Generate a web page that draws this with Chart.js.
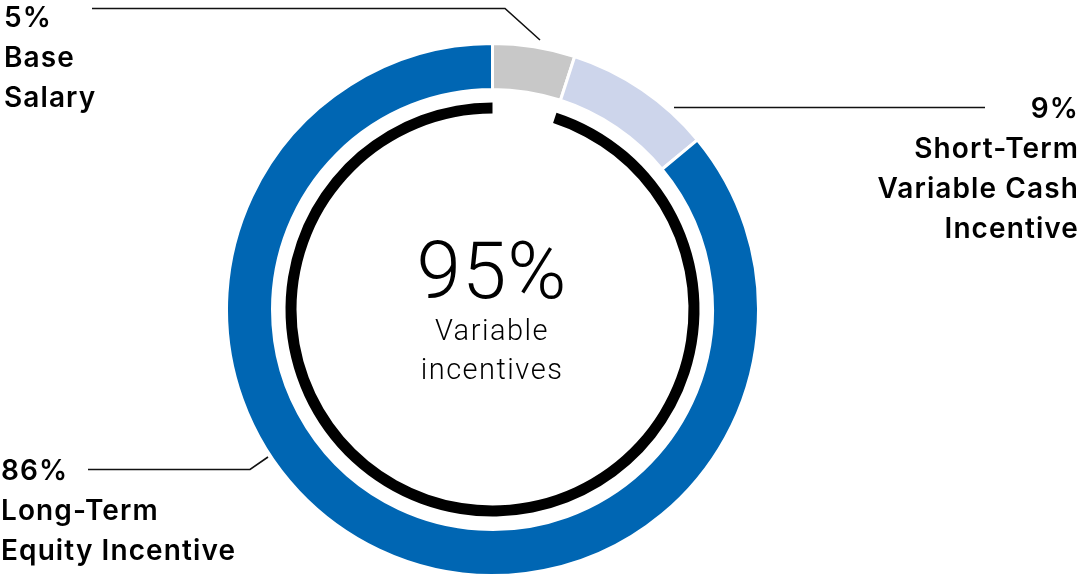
<!DOCTYPE html>
<html>
<head>
<meta charset="utf-8">
<script src="https://cdn.jsdelivr.net/npm/chart.js@4/dist/chart.umd.min.js"></script>
<style>
  html, body { margin: 0; padding: 0; background: #fff; }
  #wrap { position: relative; width: 1079px; height: 577px; overflow: hidden; }
  #c { position: absolute; left: 0; top: 0; }
  .lbl { position: absolute; font-family: Inter, "Noto Sans", sans-serif; font-weight: 600;
         font-size: 28px; letter-spacing: 1.1px; line-height: 40px; color: #000; white-space: nowrap; }
  .center { position: absolute; width: 300px; text-align: center; color: #000;
            font-family: Roboto, "Noto Sans", sans-serif; font-weight: 300; }
</style>
</head>
<body>
<div id="wrap">
  <canvas id="c" width="1079" height="577"></canvas>
  <div class="lbl" id="lblBase" style="left:4px; top:-3px; text-align:left;"></div>
  <div class="lbl" id="lblShort" style="right:0px; top:88px; text-align:right;"></div>
  <div class="lbl" id="lblLong" style="left:1px; top:450px; text-align:left;"></div>
  <div class="center" id="bigValue" style="left:342px; top:226px; font-size:80px; line-height:90px; letter-spacing:1px;"></div>
  <div class="center" id="bigCaption" style="left:342px; top:311px; font-size:29px; line-height:39px; letter-spacing:1.5px;"></div>
</div>
<script>
// Pay mix components (percent of total target compensation)
const categories = ["Base Salary", "Short-Term Variable Cash Incentive", "Long-Term Equity Incentive"];
const labelLines = [["Base", "Salary"], ["Short-Term", "Variable Cash", "Incentive"], ["Long-Term", "Equity Incentive"]];
const shares = [5, 9, 86];
const colors = ["#c8c8c8", "#cdd5eb", "#0066b3"];

// Inner ring: fixed part vs. variable part
const variableSplit = [5, 95];
const variableLabel = ["95%", "Variable", "incentives"];

// Text labels
function setLabel(id, idx) {
  const el = document.getElementById(id);
  el.innerHTML = [shares[idx] + "%"].concat(labelLines[idx]).join("<br>");
}
setLabel("lblBase", 0);
setLabel("lblShort", 1);
setLabel("lblLong", 2);
document.getElementById("bigValue").textContent = variableLabel[0];
document.getElementById("bigCaption").innerHTML = variableLabel[1] + "<br>" + variableLabel[2];

// Leader lines from each label to its slice
const leaderPlugin = {
  id: "leaders",
  afterDraw(chart) {
    const ctx = chart.ctx;
    ctx.save();
    ctx.strokeStyle = "#111";
    ctx.lineWidth = 1.6;
    const paths = [
      [[92, 8.5], [505, 8.5], [540, 40]],
      [[674, 107.5], [985, 107.5]],
      [[88, 469.5], [250, 469.5], [268, 457]]
    ];
    paths.forEach(p => {
      ctx.beginPath();
      ctx.moveTo(p[0][0], p[0][1]);
      for (let i = 1; i < p.length; i++) ctx.lineTo(p[i][0], p[i][1]);
      ctx.stroke();
    });
    ctx.restore();
  }
};

new Chart(document.getElementById("c"), {
  type: "doughnut",
  data: {
    labels: categories,
    datasets: [
      {
        data: shares,
        backgroundColor: colors,
        borderColor: "#ffffff",
        borderWidth: 3,
        weight: 46
      },
      {
        data: variableSplit,
        backgroundColor: ["rgba(0,0,0,0)", "rgba(0,0,0,0)"],
        borderWidth: 0,
        weight: 13
      },
      {
        data: variableSplit,
        backgroundColor: ["rgba(0,0,0,0)", "#000000"],
        borderWidth: 0,
        weight: 11
      }
    ]
  },
  options: {
    responsive: false,
    animation: false,
    devicePixelRatio: 1,
    radius: 266,
    cutout: 196,
    layout: { padding: { left: 0, right: 94, top: 42, bottom: 0 } },
    plugins: {
      legend: { display: false },
      tooltip: { enabled: false }
    }
  },
  plugins: [leaderPlugin]
});
</script>
</body>
</html>
